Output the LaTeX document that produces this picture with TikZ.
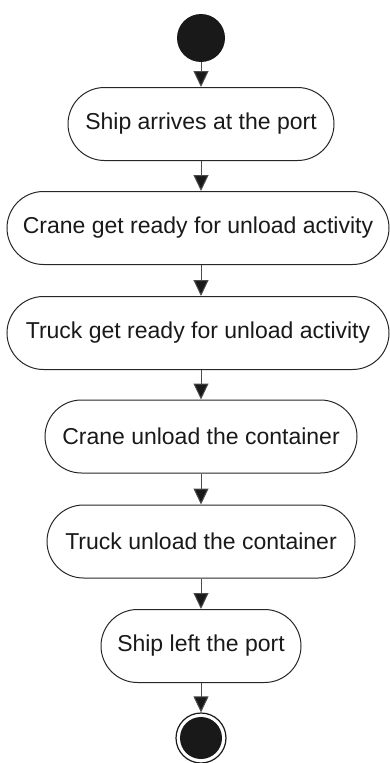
\documentclass[tikz,border=0pt]{standalone}
\usepackage{fontspec}
\setmainfont{Liberation Sans}
\usetikzlibrary{arrows.meta}
\begin{document}
\begin{tikzpicture}[x=1pt,y=1pt,
  act/.style={draw=black!85, line width=1pt, rounded corners=36.5pt, minimum height=73pt, inner sep=0pt, font=\fontsize{23}{27}\selectfont, text=black!90},
  flow/.style={draw=black!70, line width=1pt, -{Triangle[width=15pt,length=16pt]}, arrows={[fill=black!90]}}]
\useasboundingbox (0,0) rectangle (390,-763);
\node[circle, fill=black!90, minimum size=48pt, inner sep=0pt] (start) at (201,-38) {};
\node[act, minimum width=266pt] (b1) at (201,-124) {Ship arrives at the port};
\node[act, minimum width=382pt] (b2) at (198,-228) {Crane get ready for unload activity};
\node[act, minimum width=382pt] (b3) at (198,-333) {Truck get ready for unload activity};
\node[act, minimum width=312pt] (b4) at (201,-436.5) {Crane unload the container};
\node[act, minimum width=308pt] (b5) at (201,-541.5) {Truck unload the container};
\node[act, minimum width=200pt] (b6) at (201,-646) {Ship left the port};
\node[circle, draw=black!90, line width=1.2pt, minimum size=50pt, inner sep=0pt] (end) at (201,-738) {};
\node[circle, fill=black!90, minimum size=42pt, inner sep=0pt] (endin) at (end.center) {};
\draw[flow] (start.south) -- (b1.north);
\draw[flow] (b1.south) -- (b1.south |- b2.north);
\draw[flow] (b1.south |- b2.south) -- (b1.south |- b3.north);
\draw[flow] (b1.south |- b3.south) -- (b4.north);
\draw[flow] (b4.south) -- (b5.north);
\draw[flow] (b5.south) -- (b6.south |- b6.north);
\draw[flow] (b6.south) -- (end.north);
\end{tikzpicture}
\end{document}
